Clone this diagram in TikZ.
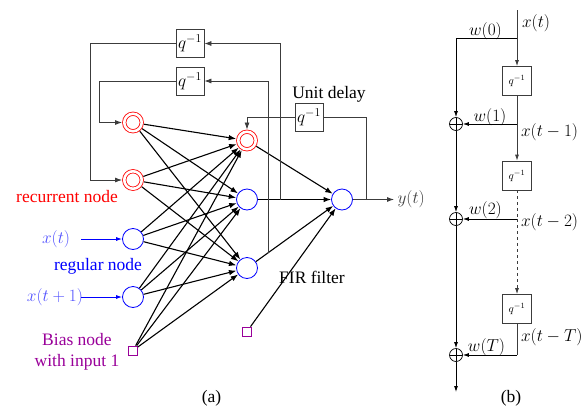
\documentclass[tikz,border=0pt]{standalone}
\usepackage{fontspec}
\setmainfont{Liberation Serif}
\usetikzlibrary{arrows.meta,calc}
\definecolor{nred}{RGB}{255,0,0}
\definecolor{nblue}{RGB}{0,0,255}
\definecolor{lblue}{RGB}{80,80,255}
\definecolor{bpurple}{RGB}{153,0,153}
\definecolor{dgray}{RGB}{60,60,60}
\begin{document}
\begin{tikzpicture}[x=1pt,y=-1pt,
  every node/.style={font=\fontsize{17.5}{21}\selectfont},
  rnode/.style={circle,draw=nred,double=white,double distance=2.6pt,line width=0.8pt,minimum size=17.5pt,inner sep=0pt,outer sep=2.2pt},
  bnode/.style={circle,draw=nblue,line width=0.8pt,minimum size=21pt,inner sep=0pt},
  biasnode/.style={rectangle,draw=bpurple,line width=0.8pt,minimum size=9pt,inner sep=0pt},
  delaybox/.style={rectangle,draw=dgray,line width=0.8pt,minimum size=28pt,inner sep=0pt,font=\fontsize{17}{20}\selectfont},
  smallbox/.style={rectangle,draw=dgray,line width=0.8pt,minimum size=29pt,inner sep=0pt,font=\fontsize{11}{13}\selectfont},
  sumnode/.style={circle,draw,line width=0.7pt,minimum size=13pt,inner sep=0pt,
    path picture={\draw[line width=0.6pt] (path picture bounding box.north) -- (path picture bounding box.south)
      (path picture bounding box.west) -- (path picture bounding box.east);}},
  conn/.style={line width=1.1pt,-{Latex[length=7.5pt,width=5.5pt]}},
  fbline/.style={line width=0.8pt,draw=dgray},
  fbarrow/.style={line width=0.8pt,draw=dgray,-{Latex[length=7pt,width=5pt]}},
  tline/.style={line width=0.8pt,draw=dgray},
  tarrow/.style={line width=0.8pt,draw=black,-{Latex[length=6pt,width=4pt]}}
]
\useasboundingbox (0,0) rectangle (581,407);

% ---------- (a) ----------
\node[rnode] (R1) at (133,122.5) {};
\node[rnode] (R2) at (133,180) {};
\node[bnode] (I1) at (133,239) {};
\node[bnode] (I2) at (133,297) {};
\node[biasnode] (B1) at (133,350.5) {};

\node[rnode] (H1) at (247,140.5) {};
\node[bnode] (H2) at (247,199.5) {};
\node[bnode] (H3) at (247,268) {};
\node[bnode] (O) at (342,199.5) {};
\node[biasnode] (B2) at (247,331.5) {};

\node[delaybox] (D1) at (190,43.5) {$q^{-1}$};
\node[delaybox] (D2) at (190,81) {$q^{-1}$};
\node[delaybox] (D3) at (309,117) {$q^{-1}$};

\foreach \a in {R1,R2,I1,I2,B1}
  \foreach \b in {H1,H2,H3}
    \draw[conn] (\a) -- (\b);
\foreach \a in {H1,H2,H3,B2}
  \draw[conn] (\a) -- (O);

% feedback loops
\coordinate (v1bot) at (280,199.5);
\draw[fbarrow] (v1bot) |- (D1.east);
\draw[fbarrow] (D1.west) -- ++(-85.3,0) |- (R2.west);
\coordinate (v2bot) at (intersection of H3--O and 268,0--268,400);
\draw[fbarrow] (v2bot) |- (D2.east);
\draw[fbarrow] (D2.west) -- ++(-76.7,0) |- (R1.west);
\coordinate (oj) at (366,199.5);
\draw[fbline] (oj) |- (D3.east);
\draw[fbarrow] (D3.west) -| (H1.north);

% output
\coordinate (yend) at (394,199.5);
\draw[fbarrow] (O.east) -- (yend);
\node[anchor=west,text=dgray] (ylab) at (394,199.5) {$y(t)$};

% inputs
\node[text=lblue] (xt) at (56,239.3) {$x(t)$};
\node[text=lblue] (xt1) at (55,297.3) {$x(t+1)$};
\coordinate (a1) at (81,239);
\coordinate (a2) at (81,297);
\draw[line width=0.9pt,draw=nblue,-{Latex[length=6pt,width=4pt]}] (a1) -- (I1.west);
\draw[line width=0.9pt,draw=nblue,-{Latex[length=6pt,width=4pt]}] (a2) -- (I2.west);

% labels
\node[text=nred] (lrec) at (67,196.7) {recurrent node};
\node[text=nblue] (lreg) at (98,266.7) {regular node};
\node[text=bpurple,align=center] (lbias) at (77,352) {Bias node\\with input 1};
\node (lunit) at (329,94) {Unit delay};
\node (lfir) at (312,277) {FIR filter};
\node (la) at (211.5,398) {(a)};

% ---------- (b) ----------
\coordinate (top) at (517,10);
\coordinate (tap0) at (517,38.3);
\node[smallbox] (Q1) at (517,81) {$q^{-1}$};
\coordinate (tap1) at (517,124);
\node[smallbox] (Q2) at (517,175.5) {$q^{-1}$};
\coordinate (tap2) at (517,219);
\node[smallbox] (Q3) at (517,309) {$q^{-1}$};
\coordinate (tap3) at (517,355);

\node[sumnode] (S1) at (456,124) {};
\node[sumnode] (S2) at (456,219) {};
\node[sumnode] (S3) at (456,355) {};
\coordinate (bot) at (456,392);

\draw[line width=0.8pt,draw=dgray,-{Latex[length=6pt,width=4pt]}] (top) -- (Q1.north);
\draw[tarrow] (tap0) -| (S1.north);
\draw[tline] (Q1.south) -- (tap1);
\draw[tarrow] (tap1) -- (S1.east);
\draw[line width=0.8pt,draw=dgray,-{Latex[length=6pt,width=4pt]}] (tap1) -- (Q2.north);
\draw[tline,dashed] (Q2.south) -- (tap2);
\draw[tarrow] (tap2) -- (S2.east);
\draw[line width=0.8pt,draw=dgray,dashed,-{Latex[length=6pt,width=4pt]}] (tap2) -- (Q3.north);
\draw[tline] (Q3.south) -- (tap3);
\draw[tarrow] (tap3) -- (S3.east);
\draw[tarrow] (S1) -- (S2);
\draw[tarrow] (S2) -- (S3);
\draw[tarrow] (S3) -- (bot);

\node (lx0) at (536,23) {$x(t)$};
\node (lw0) at (485.5,31) {$w(0)$};
\node (lw1) at (490,117) {$w(1)$};
\node[anchor=west] (lx1) at (517.5,131.7) {$x(t-1)$};
\node (lw2) at (485.5,210) {$w(2)$};
\node[anchor=west] (lx2) at (517.5,221.7) {$x(t-2)$};
\node (lwT) at (486.5,346.7) {$w(T)$};
\node[anchor=west] (lxT) at (517.5,337) {$x(t-T)$};
\node (lb) at (511,398) {(b)};
\end{tikzpicture}
\end{document}
